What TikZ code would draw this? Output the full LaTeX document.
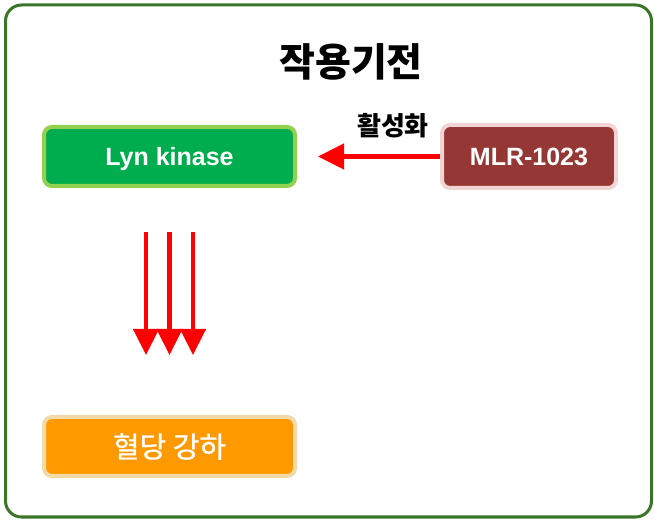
\documentclass[tikz,border=0pt]{standalone}
\usepackage{fontspec}
\setmainfont{Liberation Sans}
\newfontfamily\cjk{Noto Sans CJK KR}
\newfontfamily\cjkm[FakeBold=0.8]{Noto Sans CJK KR}
\usetikzlibrary{arrows.meta}
\definecolor{frameg}{HTML}{3B7527}
\definecolor{lyng}{HTML}{00AD4E}
\definecolor{lynb}{HTML}{92D050}
\definecolor{mlrr}{HTML}{953735}
\definecolor{mlrb}{HTML}{F2D4D4}
\definecolor{orf}{HTML}{FF9900}
\definecolor{orb}{HTML}{F2D9A8}
\definecolor{arr}{HTML}{FF0000}
\tikzset{
  box/.style={rounded corners=8pt, line width=4pt, minimum width=251pt, minimum height=59pt, inner sep=0pt, text=white, font=\fontsize{25}{28}\selectfont\bfseries},
  latin/.style={text depth=0pt},
  redarrow/.style={draw=arr, line width=4.5pt, -{Triangle[length=26pt,width=25pt]}},
}
\begin{document}
\begin{tikzpicture}[x=1pt,y=-1pt]
\useasboundingbox (0,0) rectangle (654,521);
\draw[frameg, line width=3pt, rounded corners=16pt] (5.5,5) rectangle (651.5,517);
\node (title) at (351,62) {\cjk\fontsize{39}{44}\selectfont\bfseries 작용기전};
\node[box, latin, fill=lyng, draw=lynb] (lyn) at (169.5,156.5) {Lyn kinase};
\node[box, latin, fill=mlrr, draw=mlrb, minimum width=174pt, minimum height=63pt] (mlr) at (529,156.5) {MLR-1023};
\node[box, fill=orf, draw=orb, font=\cjkm\fontsize{29}{32}\selectfont] (bg) at (169.5,446.5) {혈당 강하};
\draw[redarrow, shorten >=21pt] (mlr.west) -- (lyn.east);
\node (act) at (393,126) {\cjk\fontsize{26}{30}\selectfont\bfseries 활성화};
\foreach \dx/\nm in {-23.5/a,0/b,23.5/c}{
  \draw[redarrow, shorten <=44pt, shorten >=60pt] ([xshift=\dx pt]lyn.south) -- ([xshift=\dx pt]bg.north);
}
\end{tikzpicture}
\end{document}
